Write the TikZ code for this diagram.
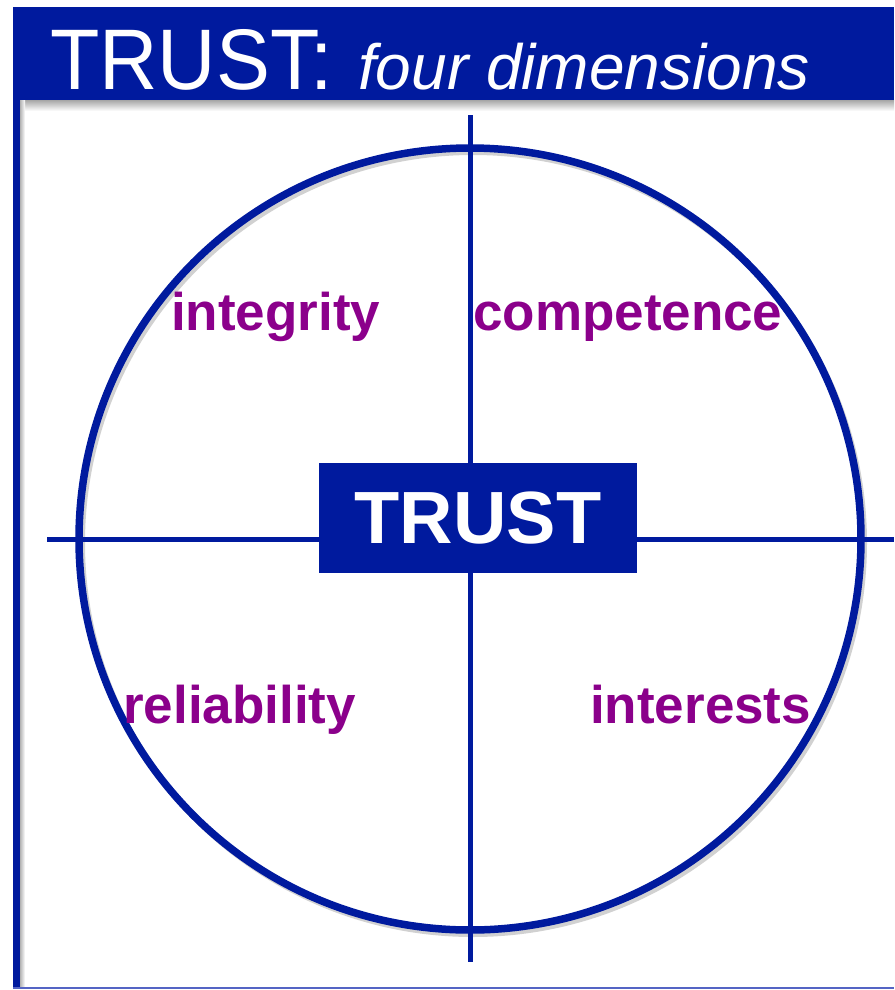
\documentclass[tikz,border=0pt]{standalone}
\usepackage{fontspec}
\setmainfont{Liberation Sans}
\newfontfamily\titlefont[FakeStretch=0.94]{Liberation Sans}
\definecolor{trustblue}{RGB}{0,26,158}
\definecolor{edgeblue}{RGB}{84,100,196}
\definecolor{labelpurple}{RGB}{139,0,139}
\tikzset{%
  % Specifications for style of nodes:
       dimension/.style = {text=labelpurple, inner sep=0pt, anchor=base west,
                           font=\bfseries\fontsize{53}{53}\selectfont},
            core/.style = {fill=trustblue, text=white, inner sep=0pt,
                           minimum width=318pt, minimum height=110pt,
                           font=\bfseries\fontsize{74}{74}\selectfont},
       titletext/.style = {text=white, inner sep=0pt, anchor=base west},
  % Specifications for style of lines:
            axis/.style = {draw=trustblue, line width=5pt},
            ring/.style = {draw=trustblue, line width=7.5pt},
}

\begin{document}
\begin{tikzpicture}[x=1pt, y=-1pt]
  \useasboundingbox (0,0) rectangle (894,990);
  % Frame: title bar, left rule and bottom rule
  \shade[top color=black!35, bottom color=white] (20,100) rectangle (894,111);
  \shade[left color=black!30, right color=white] (20,100) rectangle (25,987);
  \fill[trustblue] (13,7) rectangle (894,100);
  \fill[trustblue] (13,100) rectangle (20,988);
  \draw[edgeblue, line width=2pt] (13,988) -- (894,988);

  \node (title) [titletext] at (50,89)
    {{\titlefont\fontsize{86}{86}\selectfont TRUST:}\hspace{25pt}%
     {\fontsize{64}{64}\selectfont\itshape four dimensions}};

  % Circle and axes
  \draw[black!18, line width=6pt] (473,543) circle (391pt);
  \draw[ring] (470,539) circle (391pt);

  \coordinate (axis top)    at (470,115);
  \coordinate (axis bottom) at (470,962);
  \coordinate (axis left)   at (47,539);
  \coordinate (axis right)  at (894,539);
  \draw[axis] (axis top) -- (axis bottom);
  \draw[axis] (axis left) -- (axis right);

  % Specification of nodes (position, etc.)
  \node (core)        [core]      at (478,518) {TRUST};
  \node (integrity)   [dimension] at (171,330) {integrity};
  \node (competence)  [dimension] at (473,330) {competence};
  \node (reliability) [dimension] at (123,723) {reliability};
  \node (interests)   [dimension] at (590,723) {interests};
\end{tikzpicture}
\end{document}
